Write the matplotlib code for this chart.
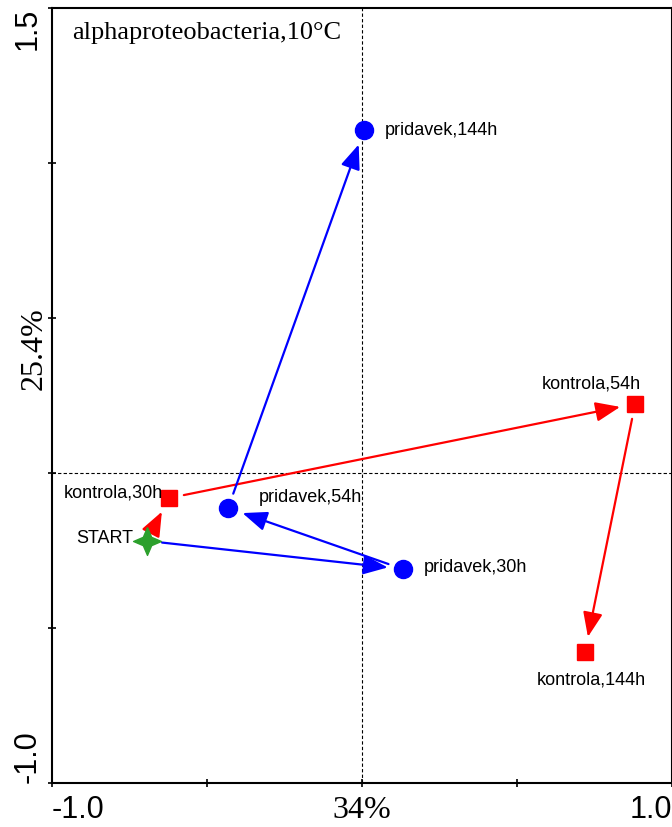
import matplotlib
matplotlib.use("Agg")
import matplotlib.pyplot as plt
from matplotlib.path import Path

# sample scores (axis 1, axis 2)
start = (-0.694, -0.219)
kontrola_names = ["kontrola,30h", "kontrola,54h", "kontrola,144h"]
kontrola_x = [-0.623, 0.881, 0.719]
kontrola_y = [-0.081, 0.223, -0.577]
pridavek_names = ["pridavek,30h", "pridavek,54h", "pridavek,144h"]
pridavek_x = [0.132, -0.432, 0.006]
pridavek_y = [-0.310, -0.113, 1.106]

x_ticks = [-1.0, -0.5, 0.0, 0.5, 1.0]
x_ticklabels = ["-1.0", "", "34%", "", "1.0"]
y_ticks = [-1.0, -0.5, 0.0, 0.5, 1.0, 1.5]
y_ticklabels = ["-1.0", "", "", "", "", "1.5"]

fig = plt.figure(figsize=(6.72, 8.27), dpi=100)
ax = fig.add_axes([52 / 672, 44 / 827, 620 / 672, 775 / 827])
ax.set_xlim(-1.0, 1.0)
ax.set_ylim(-1.0, 1.5)

ax.axhline(0, color="black", lw=0.8, ls=(0, (3, 2)), zorder=1)
ax.axvline(0, color="black", lw=0.8, ls=(0, (3, 2)), zorder=1)


def draw_path(xs, ys, color):
    pts = [start] + list(zip(xs, ys))
    for a, b in zip(pts[:-1], pts[1:]):
        ax.annotate("", xy=b, xytext=a,
                    arrowprops=dict(arrowstyle="-|>,head_length=1.5,head_width=0.6",
                                    color=color, lw=1.6, shrinkA=11, shrinkB=11),
                    zorder=2)


draw_path(kontrola_x, kontrola_y, "red")
draw_path(pridavek_x, pridavek_y, "blue")

ax.plot(kontrola_x, kontrola_y, "s", color="red", ms=12, ls="none", zorder=3)
ax.plot(pridavek_x, pridavek_y, "o", color="blue", ms=13, ls="none", zorder=3)
# four-pointed star for the starting sample
star = Path([(0, 1), (0.3, 0.3), (1, 0), (0.3, -0.3), (0, -1),
             (-0.3, -0.3), (-1, 0), (-0.3, 0.3), (0, 1)])
ax.plot(*start, marker=star, color="#2ca02c", ms=20, ls="none", zorder=3)

lab = dict(fontsize=13, family="Liberation Sans", textcoords="offset pixels")
ax.annotate("START", start, xytext=(-14, 2), ha="right", va="center", **lab)
ax.annotate(kontrola_names[0], (kontrola_x[0], kontrola_y[0]), xytext=(-6, 5),
            ha="right", va="center", **lab)
ax.annotate(kontrola_names[1], (kontrola_x[1], kontrola_y[1]), xytext=(-44, 20),
            ha="center", va="center", **lab)
ax.annotate(kontrola_names[2], (kontrola_x[2], kontrola_y[2]), xytext=(6, -28),
            ha="center", va="center", **lab)
ax.annotate(pridavek_names[0], (pridavek_x[0], pridavek_y[0]), xytext=(21, 2),
            ha="left", va="center", **lab)
ax.annotate(pridavek_names[1], (pridavek_x[1], pridavek_y[1]), xytext=(31, 11),
            ha="left", va="center", **lab)
ax.annotate(pridavek_names[2], (pridavek_x[2], pridavek_y[2]), xytext=(21, 0),
            ha="left", va="center", **lab)

ax.text(0.032, 0.968, "alphaproteobacteria,10\u00b0C", transform=ax.transAxes,
        family="Liberation Serif", fontsize=19, ha="left", va="center")

ax.set_xticks(x_ticks)
ax.set_xticklabels(x_ticklabels)
ax.set_yticks(y_ticks)
ax.set_yticklabels(y_ticklabels, rotation=90)
ax.tick_params(direction="inout", length=6, width=1.2, labelsize=22, pad=4)
ax.tick_params(axis="x", pad=6)

xl = ax.get_xticklabels()
xl[0].set_ha("left")
xl[4].set_ha("right")
for t in xl:
    t.set_family("Liberation Sans")
xl[2].set_family("Liberation Serif")
xl[2].set_fontsize(23)
yl = ax.get_yticklabels()
yl[0].set_va("bottom")
yl[5].set_va("top")
for t in yl:
    t.set_family("Liberation Sans")
    t.set_ha("right")

ax.text(-0.006, 0.40, "25.4%", transform=ax.get_yaxis_transform(),
        rotation=90, ha="right", va="center", family="Liberation Serif",
        fontsize=23)

for s in ax.spines.values():
    s.set_linewidth(1.5)

fig.savefig("out.png", dpi=100)
